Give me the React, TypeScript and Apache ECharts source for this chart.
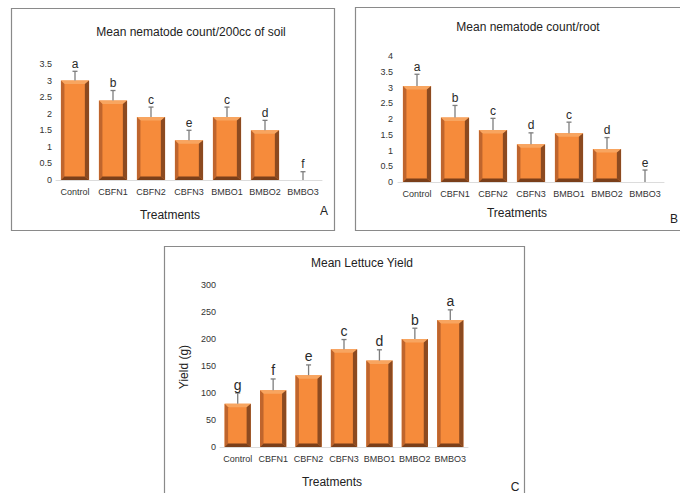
import React, { useEffect, useRef } from 'react';
import * as echarts from 'echarts';

const categories = ['Control', 'CBFN1', 'CBFN2', 'CBFN3', 'BMBO1', 'BMBO2', 'BMBO3'];

const soilMeans = [3.0, 2.4, 1.9, 1.2, 1.9, 1.5, 0];
const soilErrors = [0.28, 0.3, 0.3, 0.3, 0.3, 0.3, 0.25];
const soilLetters = ['a', 'b', 'c', 'e', 'c', 'd', 'f'];

const rootMeans = [3.05, 2.05, 1.65, 1.2, 1.55, 1.05, 0];
const rootErrors = [0.37, 0.38, 0.37, 0.36, 0.35, 0.36, 0.38];
const rootLetters = ['a', 'b', 'c', 'd', 'c', 'd', 'e'];

const yieldMeans = [80, 105, 133, 181, 160, 200, 235];
const yieldErrors = [20, 21, 19, 18, 20, 20, 19];
const yieldLetters = ['g', 'f', 'e', 'c', 'd', 'b', 'a'];

const soilAxis = { min: 0, max: 3.5, interval: 0.5 };
const rootAxis = { min: 0, max: 4, interval: 0.5 };
const yieldAxis = { min: 0, max: 300, interval: 50 };

const FONT = '"Liberation Sans", Arial, Helvetica, sans-serif';
const FACE = '#F68B3B';
const TOP = '#F8A560';
const LEFT = '#BF652D';
const RIGHT = '#8C4A20';
const BOTTOM = '#7A3F1A';
const ERR = '#7d7d7d';

function bevelBar(ratio: number, bevel: number) {
  return (params: any, api: any) => {
    const xi = api.value(0);
    const v = api.value(1);
    const top = api.coord([xi, v]);
    const bot = api.coord([xi, 0]);
    const band = api.size([1, 0])[0];
    const w = band * ratio;
    const x0 = top[0] - w / 2;
    const x1 = top[0] + w / 2;
    const y0 = top[1];
    const y1 = bot[1];
    if (y1 - y0 < 0.5) return null;
    const b = Math.min(bevel, (y1 - y0) / 2, w / 2);
    return {
      type: 'group',
      children: [
        { type: 'rect', shape: { x: x0, y: y0, width: w, height: y1 - y0 }, style: { fill: FACE } },
        { type: 'polygon', shape: { points: [[x0, y0], [x1, y0], [x1 - b, y0 + b], [x0 + b, y0 + b]] }, style: { fill: TOP } },
        { type: 'polygon', shape: { points: [[x0, y0], [x0 + b, y0 + b], [x0 + b, y1 - b], [x0, y1]] }, style: { fill: LEFT } },
        { type: 'polygon', shape: { points: [[x1, y0], [x1, y1], [x1 - b * 1.2, y1 - b], [x1 - b * 1.2, y0 + b]] }, style: { fill: RIGHT } },
        { type: 'polygon', shape: { points: [[x0, y1], [x0 + b, y1 - b], [x1 - b * 1.2, y1 - b], [x1, y1]] }, style: { fill: BOTTOM } },
      ],
    };
  };
}

function errorBar(letters: string[], fontSize: number) {
  return (params: any, api: any) => {
    const xi = api.value(0);
    const m = api.value(1);
    const t = api.value(2);
    const p0 = api.coord([xi, m]);
    const p1 = api.coord([xi, t]);
    return {
      type: 'group',
      children: [
        { type: 'line', shape: { x1: p0[0], y1: p0[1], x2: p1[0], y2: p1[1] }, style: { stroke: ERR, lineWidth: 1.3 } },
        { type: 'line', shape: { x1: p1[0] - 2.5, y1: p1[1], x2: p1[0] + 2.5, y2: p1[1] }, style: { stroke: ERR, lineWidth: 1.3 } },
        {
          type: 'text',
          x: p1[0],
          y: p1[1] - 1.5,
          style: {
            text: letters[params.dataIndex],
            fill: '#2a2a2a',
            fontSize,
            fontFamily: FONT,
            align: 'center',
            verticalAlign: 'bottom',
            textAlign: 'center',
            textVerticalAlign: 'bottom',
          },
        },
      ],
    };
  };
}

function xAxisFor(gridIndex: number) {
  return {
    type: 'category',
    gridIndex,
    data: categories,
    axisLine: { show: true, lineStyle: { color: '#dcdcdc', width: 1 } },
    axisTick: { show: false },
    axisLabel: { color: '#333', fontSize: 9, fontFamily: FONT, margin: 7, interval: 0 },
  };
}

function yAxisFor(gridIndex: number, ax: { min: number; max: number; interval: number }, margin: number) {
  return {
    type: 'value',
    gridIndex,
    min: ax.min,
    max: ax.max,
    interval: ax.interval,
    axisLine: { show: false },
    axisTick: { show: false },
    splitLine: { show: false },
    axisLabel: { color: '#333', fontSize: 9, fontFamily: FONT, margin },
  };
}

function txt(text: string, x: number, y: number, fontSize: number, extra: any = {}) {
  return {
    type: 'text',
    x,
    y,
    ...extra,
    style: { text, fill: '#222', fontSize, fontFamily: FONT, align: 'center', verticalAlign: 'middle' },
  };
}

export default function App() {
  const ref = useRef<HTMLDivElement>(null);
  useEffect(() => {
    if (!ref.current) return;
    const chart = echarts.init(ref.current, undefined, { renderer: 'svg' });
    const panels = [
      { means: soilMeans, errs: soilErrors, letters: soilLetters, ratio: 0.74, fs: 12 },
      { means: rootMeans, errs: rootErrors, letters: rootLetters, ratio: 0.74, fs: 12 },
      { means: yieldMeans, errs: yieldErrors, letters: yieldLetters, ratio: 0.74, fs: 14 },
    ];
    const series: any[] = [];
    panels.forEach((p, i) => {
      series.push({
        type: 'custom',
        xAxisIndex: i,
        yAxisIndex: i,
        renderItem: bevelBar(p.ratio, 3.5),
        encode: { x: 0, y: 1 },
        data: p.means.map((v, k) => [k, v]),
        z: 2,
      });
      series.push({
        type: 'custom',
        xAxisIndex: i,
        yAxisIndex: i,
        renderItem: errorBar(p.letters, p.fs),
        encode: { x: 0, y: [1, 2] },
        data: p.means.map((v, k) => [k, v, v + p.errs[k]]),
        z: 3,
      });
    });
    chart.setOption({
      animation: false,
      backgroundColor: '#ffffff',
      grid: [
        { left: 56, top: 64, width: 266, height: 116 },
        { left: 398, top: 56, width: 266, height: 126 },
        { left: 220, top: 285, width: 248, height: 162 },
      ],
      xAxis: [xAxisFor(0), xAxisFor(1), xAxisFor(2)],
      yAxis: [yAxisFor(0, soilAxis, 4), yAxisFor(1, rootAxis, 5), yAxisFor(2, yieldAxis, 4)],
      series,
      graphic: [
        { type: 'rect', shape: { x: 11.5, y: 8.5, width: 323, height: 222 }, style: { fill: 'none', stroke: '#8a8a8a', lineWidth: 1.2 } },
        { type: 'rect', shape: { x: 355.5, y: 7.5, width: 340, height: 223 }, style: { fill: 'none', stroke: '#8a8a8a', lineWidth: 1.2 } },
        { type: 'rect', shape: { x: 164.5, y: 246.5, width: 360, height: 260 }, style: { fill: 'none', stroke: '#8a8a8a', lineWidth: 1.2 } },
        txt('Mean nematode count/200cc of soil', 191, 32, 12),
        txt('Mean nematode count/root', 528, 27, 12),
        txt('Mean Lettuce Yield', 362, 263, 12),
        txt('Treatments', 170, 215, 12),
        txt('Treatments', 517, 213, 12),
        txt('Treatments', 332, 482, 12),
        txt('A', 324, 211, 12),
        txt('B', 674, 219, 12),
        txt('C', 515, 487, 12),
        txt('Yield (g)', 184, 367, 12, { rotation: Math.PI / 2 }),
      ],
    });
    return () => chart.dispose();
  }, []);
  return (
    <div
      ref={ref}
      style={{ position: 'fixed', left: 0, top: 0, width: 680, height: 493, background: '#fff' }}
    />
  );
}
